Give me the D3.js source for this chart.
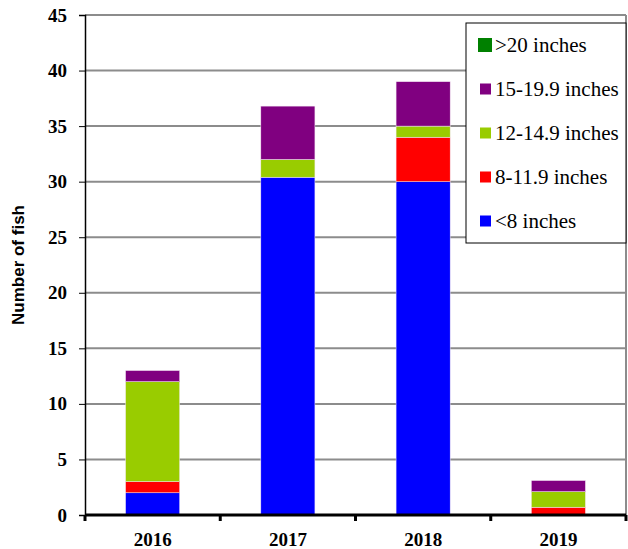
<!DOCTYPE html>
<html><head><meta charset="utf-8">
<script src="https://cdn.jsdelivr.net/npm/d3@7"></script>
<style>body{margin:0;background:#fff}</style>
</head><body>
<svg id="c" width="628" height="549"></svg>
<script>
const years = ["2016","2017","2018","2019"];
const sizeClasses = ["<8 inches","8-11.9 inches","12-14.9 inches","15-19.9 inches",">20 inches"];
const lt8 = [2, 30.4, 30, 0];
const s8to12 = [1, 0, 4, 0.7];
const s12to15 = [9, 1.6, 1, 1.4];
const s15to20 = [1, 4.8, 4, 1.0];
const gt20 = [0, 0, 0, 0];
const colors = ["#0000FF","#FF0000","#99CC00","#800080","#008000"];
const yTicks = [0,5,10,15,20,25,30,35,40,45];

const SERIF = "Liberation Serif";
const seriesVals = [lt8, s8to12, s12to15, s15to20, gt20];
const rows = years.map((y,i)=>{const r={year:y}; sizeClasses.forEach((k,j)=>r[k]=seriesVals[j][i]); return r;});
const stack = d3.stack().keys(sizeClasses)(rows);

const svg = d3.select("#c");
const L=85, R=626, T=15, B=515;
const x = d3.scaleBand().domain(years).range([L,R]).paddingInner(0.6).paddingOuter(0.3);
const xb = d3.scaleBand().domain(years).range([L,R]);
const y = d3.scaleLinear().domain([0,45]).range([B,T]);

svg.append("g").selectAll("line").data(yTicks.filter(t=>t>0)).join("line")
  .attr("x1",L).attr("x2",R).attr("y1",d=>y(d)).attr("y2",d=>y(d))
  .attr("stroke","#8c8c8c").attr("stroke-width",2);
svg.append("line").attr("x1",R).attr("x2",R).attr("y1",T).attr("y2",B).attr("stroke","#8c8c8c").attr("stroke-width",2);

svg.append("g").selectAll("g").data(stack).join("g")
  .attr("fill",(d,i)=>colors[i])
  .selectAll("rect").data(d=>d).join("rect")
  .attr("x",d=>x(d.data.year)).attr("width",x.bandwidth())
  .attr("y",d=>y(d[1])).attr("height",d=>Math.max(0,y(d[0])-y(d[1])))
  .attr("stroke","#f4e8f4").attr("stroke-width",0.5);

const ya = svg.append("g").attr("transform",`translate(${L},0)`)
  .call(d3.axisLeft(y).tickValues(yTicks).tickSize(6).tickPadding(12));
ya.attr("font-family",SERIF).attr("font-size",19).attr("font-weight","bold");
ya.select(".domain").attr("stroke","#000").attr("stroke-width",1.5);
ya.selectAll(".tick line").attr("stroke","#000");
ya.selectAll("text").attr("fill","#000").attr("font-family",SERIF);

svg.append("line").attr("x1",L).attr("x2",R).attr("y1",B).attr("y2",B).attr("stroke","#000").attr("stroke-width",3);
const xa = svg.append("g").attr("transform",`translate(0,${B})`);
xa.selectAll("line.tk").data(years.concat(["end"])).join("line").attr("class","tk")
  .attr("x1",(d,i)=> i<years.length ? xb(d) : R).attr("x2",(d,i)=> i<years.length ? xb(d) : R)
  .attr("y1",0).attr("y2",6).attr("stroke","#000").attr("stroke-width",3);
xa.selectAll("text").data(years).join("text")
  .attr("x",d=>xb(d)+xb.bandwidth()/2).attr("y",31).attr("text-anchor","middle")
  .attr("font-family",SERIF).attr("font-weight","bold").attr("font-size",19).text(d=>d);

svg.append("text").attr("transform","translate(24,265) rotate(-90)").attr("text-anchor","middle")
  .attr("font-family","Liberation Sans").attr("font-weight","bold").attr("font-size",17)
  .text("Number of fish");

const lg = svg.append("g");
lg.append("rect").attr("x",466).attr("y",23).attr("width",160).attr("height",220)
  .attr("fill","#fff").attr("stroke","#000").attr("stroke-width",1);
const legOrder = sizeClasses.slice().reverse();
const legColors = colors.slice().reverse();
legOrder.forEach((k,i)=>{
  const cy = 45 + i*44;
  const sz = i===0 ? 14 : 11;
  lg.append("rect").attr("x", i===0?478:480).attr("y",cy-sz/2).attr("width",sz).attr("height",sz).attr("fill",legColors[i]);
  lg.append("text").attr("x",495).attr("y",cy+7).attr("font-family",SERIF)
    .attr("font-size",21).text(k);
});
</script>
</body></html>
